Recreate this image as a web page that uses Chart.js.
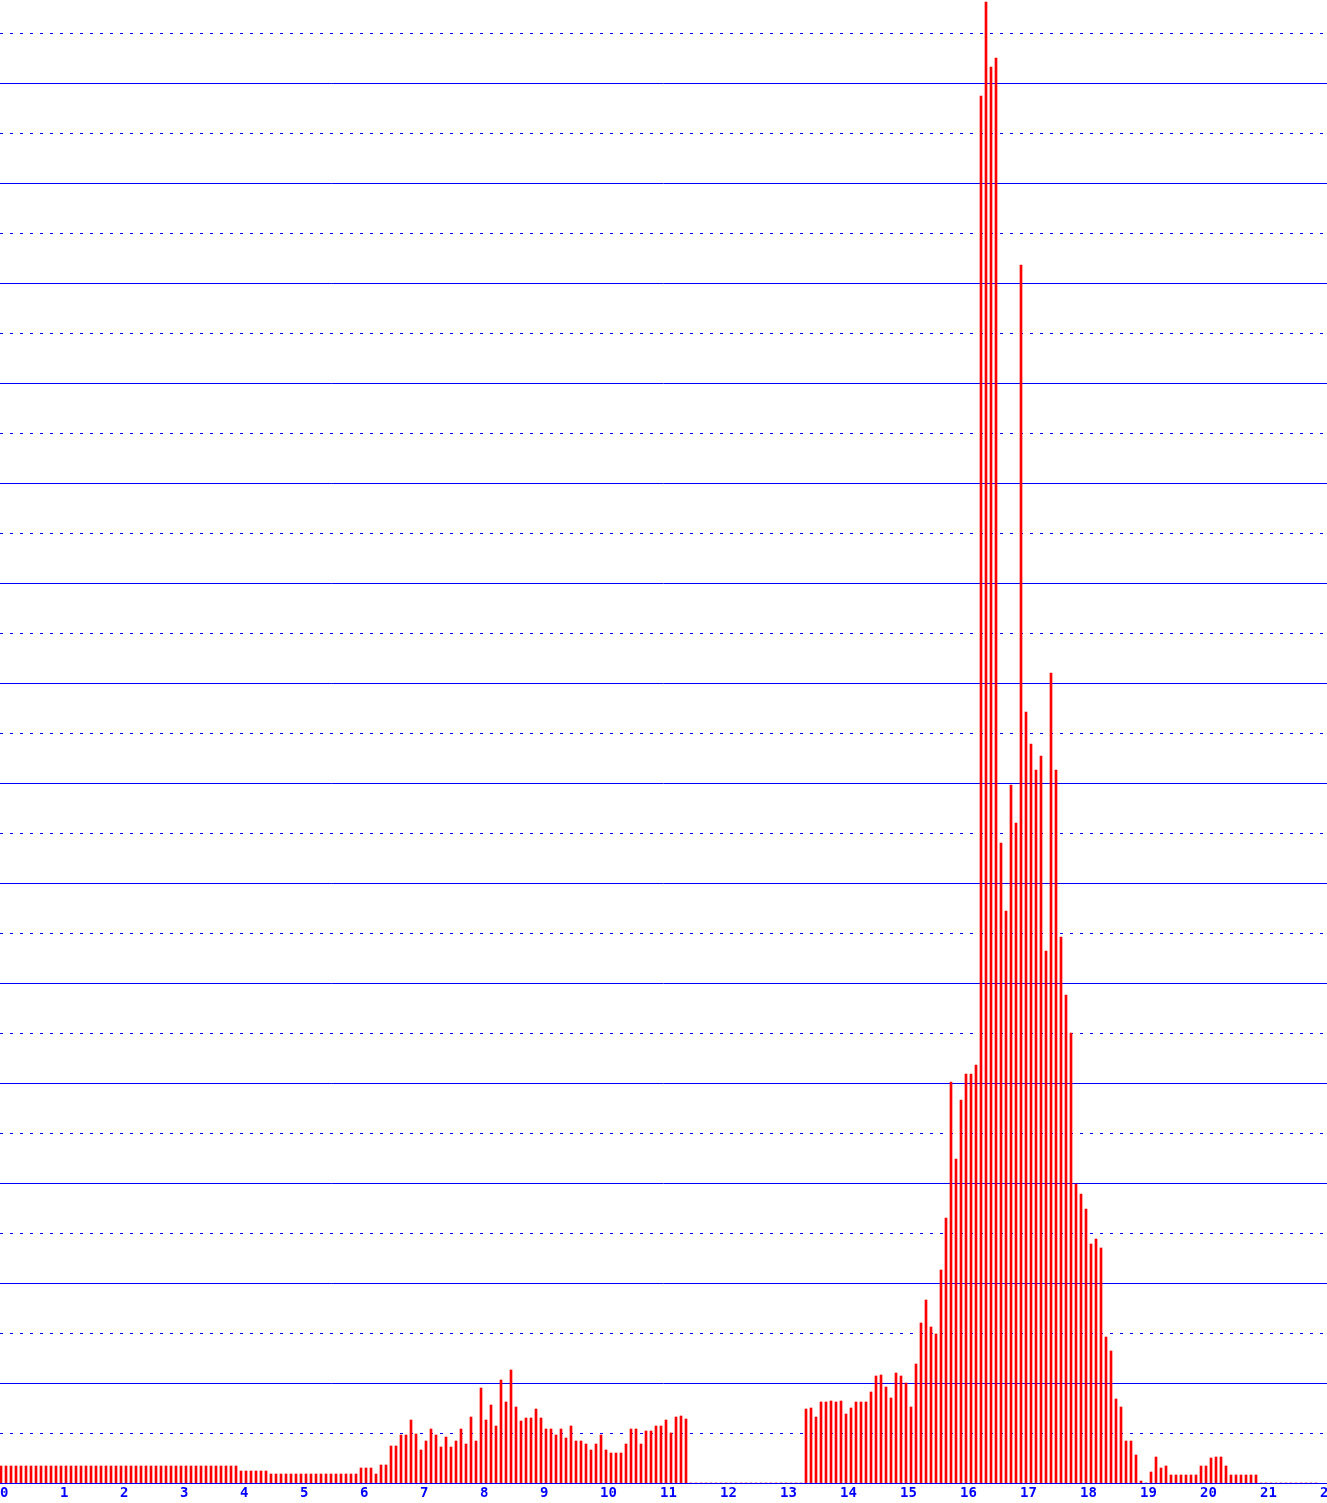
<!DOCTYPE html>
<html>
<head>
<meta charset="utf-8">
<title>Activity per 5 minutes</title>
<script src="https://cdn.jsdelivr.net/npm/chart.js@4.4.0/dist/chart.umd.min.js"></script>
<style>
    html, body { margin: 0; padding: 0; background: #ffffff; }
    canvas { display: block; }
</style>
</head>
<body>
<canvas id="activity-chart" width="1327" height="1503"></canvas>
<script>
// Hour labels along the bottom axis (the last one is cut by the edge)
const hourLabels = ['0', '1', '2', '3', '4', '5', '6', '7', '8', '9', '10', '11',
    '12', '13', '14', '15', '16', '17', '18', '19', '20', '21', '22'];

// One value per 5-minute bin, 12 bins per hour (one row = one hour)
const binCounts = [
    3.4, 3.4, 3.4, 3.4, 3.4, 3.4, 3.4, 3.4, 3.4, 3.4, 3.4, 3.4,
    3.4, 3.4, 3.4, 3.4, 3.4, 3.4, 3.4, 3.4, 3.4, 3.4, 3.4, 3.4,
    3.4, 3.4, 3.4, 3.4, 3.4, 3.4, 3.4, 3.4, 3.4, 3.4, 3.4, 3.4,
    3.4, 3.4, 3.4, 3.4, 3.4, 3.4, 3.4, 3.4, 3.4, 3.4, 3.4, 3.4,
    2.4, 2.4, 2.4, 2.4, 2.4, 2.4, 1.8, 1.8, 1.8, 1.8, 1.8, 1.8,
    1.8, 1.8, 1.8, 1.8, 1.8, 1.8, 1.8, 1.8, 1.8, 1.8, 1.8, 1.8,
    3.0, 3.0, 3.0, 1.8, 3.6, 3.6, 7.4, 7.4, 9.6, 9.6, 12.6, 9.8,
    6.6, 8.4, 10.8, 9.6, 7.2, 9.2, 7.2, 8.4, 10.8, 7.8, 13.2, 8.4,
    19, 12.6, 15.6, 11.4, 20.6, 16.2, 22.6, 15.2, 12.4, 13, 13, 14.8,
    13, 10.8, 10.8, 9.6, 10.8, 9, 11.4, 8.4, 8.4, 7.8, 6.6, 7.8,
    9.6, 6.6, 6, 6, 6, 7.8, 10.8, 10.8, 7.8, 10.4, 10.4, 11.4,
    11.4, 12.6, 10, 13.2, 13.4, 12.8, 0, 0, 0, 0, 0, 0,
    0, 0, 0, 0, 0, 0, 0, 0, 0, 0, 0, 0,
    0, 0, 0, 0, 0, 14.8, 15, 13.2, 16.2, 16.2, 16.4, 16.2,
    16.4, 13.8, 15, 16.2, 16.2, 16.2, 18.2, 21.4, 21.6, 19.2, 17, 22,
    21.4, 20, 15.2, 23.8, 32, 36.6, 31.2, 29.8, 42.6, 53, 80.2, 64.8,
    76.6, 81.8, 81.8, 83.6, 277.4, 296.2, 283.2, 285, 128, 114.4, 139.6, 132,
    243.6, 154.2, 147.8, 142.6, 145.4, 106.4, 162, 142.6, 109.2, 97.6, 90, 59.8,
    57.8, 54.8, 47.8, 48.8, 47, 29.2, 26.4, 16.8, 15.2, 8.4, 8.4, 5.6,
    0.4, 0, 2.2, 5.2, 3, 3.4, 1.6, 1.6, 1.6, 1.6, 1.6, 1.6,
    3.4, 3.4, 5, 5.2, 5.2, 3.4, 1.6, 1.6, 1.6, 1.6, 1.6, 1.6,
    0, 0, 0, 0, 0, 0, 0, 0, 0, 0, 0, 0
];

// Horizontal guide lines: solid ones and dotted ones in between
const solidLines = [20, 40, 60, 80, 100, 120, 140, 160, 180, 200, 220, 240, 260, 280];
const dottedLines = [10, 30, 50, 70, 90, 110, 130, 150, 170, 190, 210, 230, 250, 270, 290];

const BLUE = '#0000ff';
const RED = '#ff0000';

document.addEventListener('DOMContentLoaded', function() {
    createActivityChart();
});

function createActivityChart() {
    const ctx = document.getElementById('activity-chart').getContext('2d');

    // bin i sits at hour i/12
    const points = binCounts.map((v, i) => ({ x: i / 12, y: v }));

    new Chart(ctx, {
        type: 'bar',
        data: {
            datasets: [
                {
                    data: points,
                    backgroundColor: RED,
                    borderWidth: 0,
                    barThickness: 2
                }
            ]
        },
        options: {
            responsive: false,
            animation: false,
            layout: { padding: 0 },
            plugins: {
                legend: { display: false },
                tooltip: { enabled: false }
            },
            scales: {
                x: {
                    type: 'linear',
                    offset: false,
                    min: -1 / 60,
                    max: 1326 / 60,
                    afterBuildTicks: scale => {
                        scale.ticks = hourLabels.map((label, i) => ({ value: i }));
                    },
                    afterFit: scale => {
                        scale.height = 20;
                        scale.paddingLeft = 0;
                        scale.paddingRight = 0;
                    },
                    ticks: {
                        autoSkip: false,
                        maxRotation: 0,
                        align: 'start',
                        labelOffset: -1,
                        padding: 2,
                        color: BLUE,
                        font: { family: 'DejaVu Sans Mono', size: 14, weight: 'bold' },
                        callback: value => hourLabels[value]
                    },
                    grid: { display: false, drawTicks: false, offset: false },
                    border: { display: true, color: BLUE, width: 1 }
                },
                y: {
                    min: 0,
                    max: 296.6,
                    afterBuildTicks: scale => {
                        scale.ticks = solidLines.map(v => ({ value: v }));
                    },
                    afterFit: scale => { scale.width = 0; },
                    ticks: { display: false },
                    grid: { color: BLUE, lineWidth: 1, drawTicks: false },
                    border: { display: false }
                },
                y2: {
                    position: 'left',
                    min: 0,
                    max: 296.6,
                    afterBuildTicks: scale => {
                        scale.ticks = dottedLines.map(v => ({ value: v }));
                    },
                    afterFit: scale => { scale.width = 0; },
                    ticks: { display: false },
                    grid: { color: BLUE, lineWidth: 1, drawTicks: false },
                    border: { display: false, dash: [3, 7] }
                }
            }
        }
    });
}
</script>
</body>
</html>
